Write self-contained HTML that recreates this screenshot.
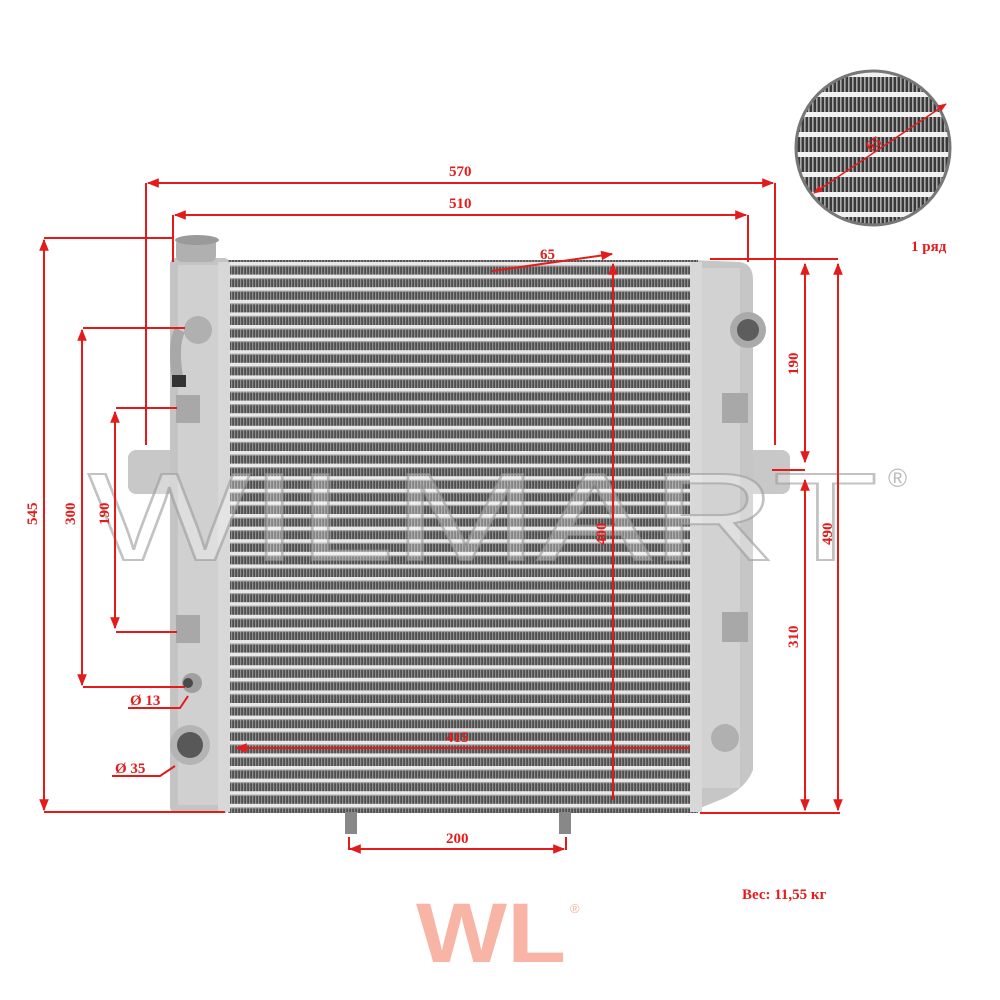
<!DOCTYPE html>
<html><head><meta charset="utf-8"><style>
html,body{margin:0;padding:0;background:#fff;width:1000px;height:1000px;overflow:hidden}
svg{display:block}
.t{font-family:"Liberation Serif",serif;font-weight:bold;fill:#e41b1b;font-size:15px}
</style></head><body>
<svg width="1000" height="1000" viewBox="0 0 1000 1000" xmlns="http://www.w3.org/2000/svg">
<defs>
<pattern id="fin" x="0" y="262" width="3" height="12.6" patternUnits="userSpaceOnUse">
<rect width="3" height="12.6" fill="#4f4f4f"/>
<rect width="1.2" height="12.6" fill="#8f8f8f"/>
<rect y="0" width="3" height="3.6" fill="#e8e8e8"/>
<rect y="3.6" width="3" height="1" fill="#a8a8a8"/>
</pattern>
<pattern id="fin2" x="0" y="72" width="4" height="20" patternUnits="userSpaceOnUse">
<rect width="4" height="20" fill="#3a3a3a"/>
<rect width="1.6" height="20" fill="#aaa"/>
<rect width="4" height="5" fill="#f2f2f2"/>
</pattern>
<clipPath id="cc"><circle cx="873" cy="148" r="77"/></clipPath>
<marker id="a" viewBox="0 0 10 10" refX="9" refY="5" markerWidth="9" markerHeight="6" orient="auto-start-reverse"><path d="M0,1 L10,5 L0,9 z" fill="#e41b1b"/></marker>
</defs>

<rect x="128" y="450" width="50" height="44" rx="8" fill="#c8c8c8"/>
<rect x="745" y="450" width="45" height="44" rx="8" fill="#c8c8c8"/>

<rect x="170" y="258" width="60" height="555" rx="6" fill="#c4c4c4"/>
<rect x="178" y="265" width="40" height="540" fill="#d0d0d0"/>
<path d="M690 260 L740 262 Q753 264 753 280 L753 770 Q745 790 720 800 L690 812 Z" fill="#c6c6c6"/>
<rect x="700" y="268" width="40" height="520" fill="#d2d2d2"/>
<rect x="228" y="260" width="470" height="553" fill="url(#fin)"/>
<rect x="218" y="262" width="12" height="550" fill="#d8d8d8"/>
<rect x="690" y="262" width="12" height="550" fill="#d8d8d8"/>
<rect x="176" y="238" width="40" height="24" rx="6" fill="#b0b0b0"/>
<ellipse cx="197" cy="240" rx="22" ry="5" fill="#9a9a9a"/>
<path d="M180 330 Q172 345 178 380" stroke="#a8a8a8" stroke-width="11" fill="none"/>
<circle cx="198" cy="330" r="14" fill="#b0b0b0"/>
<rect x="172" y="375" width="14" height="12" fill="#333"/>
<rect x="176" y="395" width="24" height="28" fill="#a8a8a8"/>
<rect x="176" y="615" width="24" height="28" fill="#a8a8a8"/>
<rect x="722" y="393" width="26" height="30" fill="#a8a8a8"/>
<rect x="722" y="612" width="26" height="30" fill="#a8a8a8"/>
<circle cx="748" cy="330" r="18" fill="#aaa"/><circle cx="748" cy="330" r="11" fill="#5d5d5d"/>
<circle cx="192" cy="683" r="10" fill="#a0a0a0"/><circle cx="188" cy="683" r="5" fill="#4a4a4a"/>
<circle cx="190" cy="745" r="20" fill="#b4b4b4"/><circle cx="190" cy="745" r="13" fill="#585858"/>
<circle cx="725" cy="738" r="14" fill="#b0b0b0"/>
<rect x="345" y="812" width="12" height="22" fill="#888"/>
<rect x="559" y="812" width="12" height="22" fill="#888"/>

<text x="88" y="560" textLength="790" lengthAdjust="spacingAndGlyphs" font-family="Liberation Sans,sans-serif" font-size="125" fill="rgba(255,255,255,0.3)" stroke="#9a9a9a" stroke-opacity="0.6" stroke-width="2">WILMART</text>
<text x="888" y="487" font-family="Liberation Sans,sans-serif" font-size="26" fill="#bbb">®</text>

<g stroke="#e41b1b" stroke-width="2" fill="none">
<line x1="148" y1="183" x2="773" y2="183" marker-start="url(#a)" marker-end="url(#a)"/>
<line x1="146" y1="183" x2="146" y2="445"/><line x1="775" y1="183" x2="775" y2="445"/>
<line x1="175" y1="215" x2="746" y2="215" marker-start="url(#a)" marker-end="url(#a)"/>
<line x1="173" y1="215" x2="173" y2="262"/><line x1="748" y1="215" x2="748" y2="262"/>
<line x1="44" y1="240" x2="44" y2="810" marker-start="url(#a)" marker-end="url(#a)"/>
<line x1="44" y1="238" x2="172" y2="238"/><line x1="44" y1="812" x2="225" y2="812"/>
<line x1="82" y1="330" x2="82" y2="685" marker-start="url(#a)" marker-end="url(#a)"/>
<line x1="83" y1="328" x2="185" y2="328"/><line x1="83" y1="687" x2="185" y2="687"/>
<line x1="115" y1="412" x2="115" y2="628" marker-start="url(#a)" marker-end="url(#a)"/>
<line x1="116" y1="408" x2="177" y2="408"/><line x1="116" y1="632" x2="177" y2="632"/>
<line x1="710" y1="259" x2="838" y2="259"/>
<line x1="805" y1="264" x2="805" y2="462" marker-start="url(#a)" marker-end="url(#a)"/>
<line x1="772" y1="470" x2="805" y2="470"/>
<line x1="805" y1="480" x2="805" y2="810" marker-start="url(#a)" marker-end="url(#a)"/>
<line x1="838" y1="264" x2="838" y2="810" marker-start="url(#a)" marker-end="url(#a)"/>
<line x1="700" y1="813" x2="840" y2="813"/>
<line x1="613" y1="264" x2="613" y2="800" marker-start="url(#a)"/>
<line x1="236" y1="748" x2="690" y2="748" marker-start="url(#a)"/>
<line x1="350" y1="849" x2="564" y2="849" marker-start="url(#a)" marker-end="url(#a)"/>
<line x1="349" y1="837" x2="349" y2="850"/><line x1="566" y1="837" x2="566" y2="850"/>
<line x1="492" y1="271" x2="612" y2="254" marker-end="url(#a)"/>
<polyline points="128,708 180,708 188,696"/>
<polyline points="112,776 160,776 175,766"/>
</g>
<text class="t" x="449" y="176" font-size="14">570</text>
<text class="t" x="449" y="208" font-size="14">510</text>
<text class="t" x="540" y="259" font-size="14">65</text>
<text class="t" x="446" y="742" font-size="14">415</text>
<text class="t" x="446" y="843" font-size="15">200</text>
<text class="t" x="130" y="705" font-size="15">Ø 13</text>
<text class="t" x="115" y="773" font-size="15">Ø 35</text>
<text class="t" font-size="15" transform="translate(37,525) rotate(-90)">545</text>
<text class="t" font-size="15" transform="translate(75,525) rotate(-90)">300</text>
<text class="t" font-size="15" transform="translate(109,525) rotate(-90)">190</text>
<text class="t" font-size="15" transform="translate(606,545) rotate(-90)">400</text>
<text class="t" font-size="15" transform="translate(798,375) rotate(-90)">190</text>
<text class="t" font-size="15" transform="translate(798,648) rotate(-90)">310</text>
<text class="t" font-size="15" transform="translate(832,545) rotate(-90)">490</text>

<g clip-path="url(#cc)"><rect x="790" y="65" width="170" height="170" fill="url(#fin2)"/></g>
<circle cx="873" cy="148" r="77" fill="none" stroke="#777" stroke-width="3"/>
<line x1="814" y1="193" x2="946" y2="104" stroke="#e41b1b" stroke-width="1.5" marker-start="url(#a)" marker-end="url(#a)"/>
<text class="t" font-size="15" transform="translate(870,152) rotate(-34)">65</text>
<text class="t" x="911" y="251" font-size="14">1 ряд</text>

<text class="t" x="742" y="899" font-size="14">Вес: 11,55 кг</text>

<text x="416" y="962" textLength="150" lengthAdjust="spacingAndGlyphs" font-family="Liberation Sans,sans-serif" font-weight="bold" font-size="84" fill="#f8b5a5">WL</text>
<text x="570" y="913" font-family="Liberation Sans,sans-serif" font-size="13" fill="#f8b5a5">®</text>
</svg>
</body></html>
